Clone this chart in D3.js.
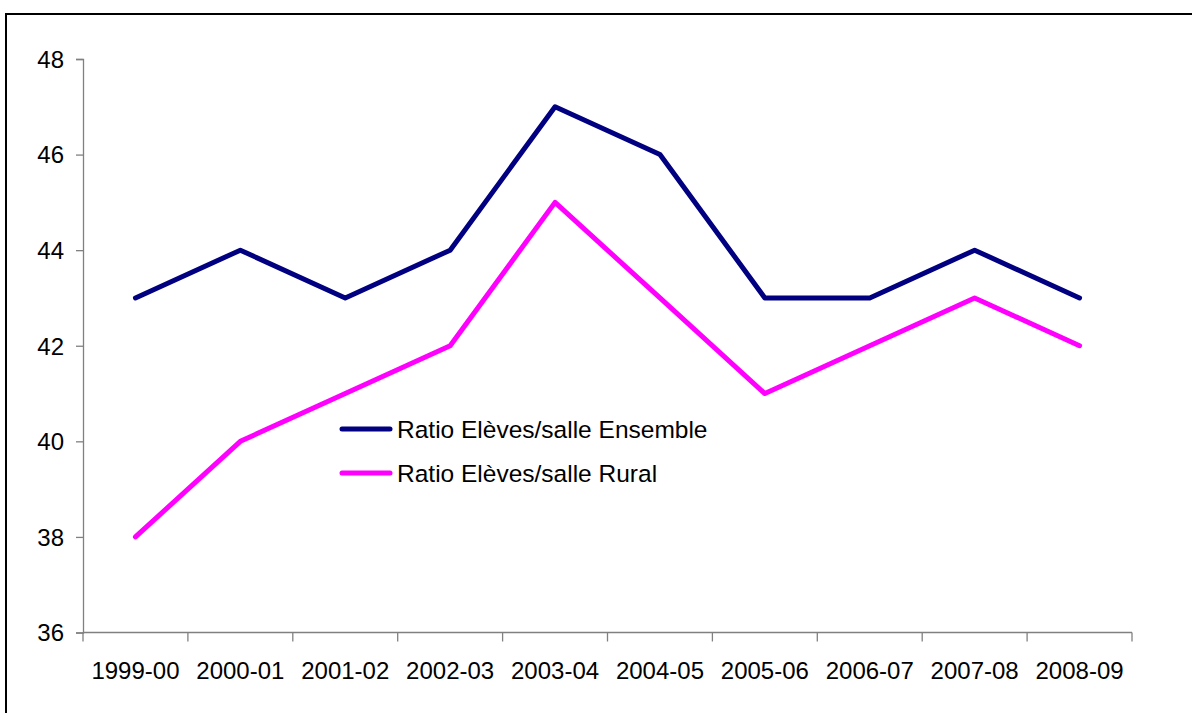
<!DOCTYPE html>
<html><head><meta charset="utf-8">
<script src="https://cdn.jsdelivr.net/npm/d3@7"></script>
<style>body{margin:0;background:#fff;}svg{display:block;font-family:Arial,"Liberation Sans",sans-serif;}</style>
</head><body>
<svg id="c" width="1192" height="713"></svg>
<script>
const categories = ["1999-00","2000-01","2001-02","2002-03","2003-04","2004-05","2005-06","2006-07","2007-08","2008-09"];
const ensemble = [43,44,43,44,47,46,43,43,44,43];
const rural = [38,40,41,42,45,43,41,42,43,42];
const yTicks = [36,38,40,42,44,46,48];
const seriesNames = ["Ratio Elèves/salle Ensemble","Ratio Elèves/salle Rural"];
const seriesColors = ["#000080","#FF00FF"];

const svg = d3.select("#c");
// outer frame
svg.append("rect").attr("x",6).attr("y",14).attr("width",1200).attr("height",720)
  .attr("fill","none").attr("stroke","#000").attr("stroke-width",2);

const L=83, R=1132, T=59, B=632.5;
const x = d3.scaleBand().domain(categories).range([L,R]);
const y = d3.scaleLinear().domain([36,48]).range([B,T]);

const axisColor="#808080";
const font="Arial, 'Liberation Sans', sans-serif";
// y axis
const ya = svg.append("g").attr("transform",`translate(${L},0)`)
  .call(d3.axisLeft(y).tickValues(yTicks).tickSize(7).tickPadding(12).tickFormat(d3.format("d")));
ya.select(".domain").attr("stroke",axisColor).attr("stroke-width",1.3);
ya.selectAll(".tick line").attr("stroke",axisColor).attr("stroke-width",1.3);
ya.selectAll("text").attr("font-size",24).attr("fill","#000").attr("font-family",font).attr("dy","0.35em");

// x axis
const xa = svg.append("g").attr("transform",`translate(0,${B})`);
xa.append("line").attr("x1",L).attr("x2",R).attr("y1",0).attr("y2",0).attr("stroke",axisColor).attr("stroke-width",1.3);
const bounds = categories.map(c=>x(c)).concat([R]);
xa.selectAll("line.t").data(bounds).enter().append("line").attr("class","t")
  .attr("x1",d=>d).attr("x2",d=>d).attr("y1",0).attr("y2",9).attr("stroke",axisColor).attr("stroke-width",1.3);
xa.selectAll("text").data(categories).enter().append("text")
  .attr("x",d=>x(d)+x.bandwidth()/2).attr("y",46).attr("text-anchor","middle")
  .attr("font-size",24).attr("font-family",font).attr("fill","#000").text(d=>d);

const line = d3.line().x((d,i)=>x(categories[i])+x.bandwidth()/2).y(d=>y(d));
[ensemble, rural].forEach((s,i)=>{
  svg.append("path").datum(s).attr("d",line).attr("fill","none")
    .attr("stroke",seriesColors[i]).attr("stroke-width",5)
    .attr("stroke-linejoin","round").attr("stroke-linecap","round");
});

// legend
const legY=[429,473];
seriesNames.forEach((n,i)=>{
  svg.append("line").attr("x1",342).attr("x2",390).attr("y1",legY[i]).attr("y2",legY[i])
    .attr("stroke",seriesColors[i]).attr("stroke-width",5).attr("stroke-linecap","round");
  svg.append("text").attr("x",397).attr("y",legY[i]+8.5).attr("font-size",24.5).attr("font-family",font).attr("fill","#000").text(n);
});
</script>
</body></html>
